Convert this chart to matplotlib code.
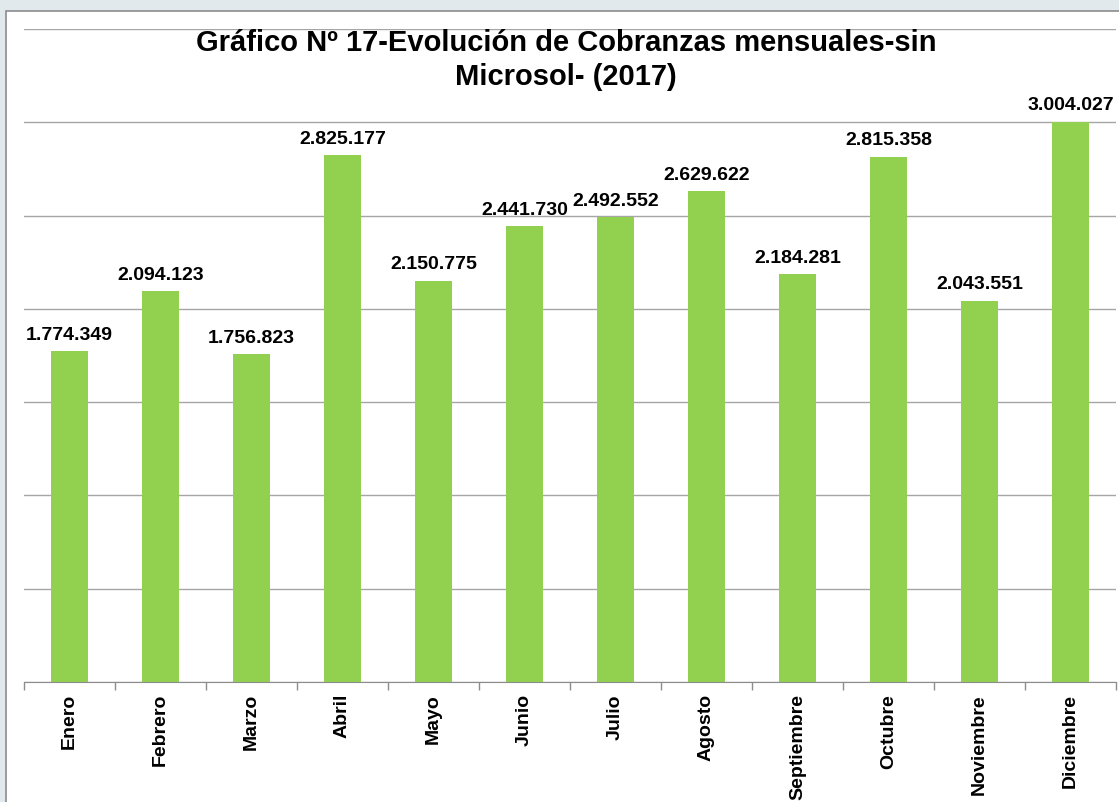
import matplotlib.pyplot as plt
from matplotlib.patches import Rectangle
import numpy as np

months = ["Enero", "Febrero", "Marzo", "Abril", "Mayo", "Junio", "Julio",
          "Agosto", "Septiembre", "Octubre", "Noviembre", "Diciembre"]
cobranzas = [1774349, 2094123, 1756823, 2825177, 2150775, 2441730, 2492552,
             2629622, 2184281, 2815358, 2043551, 3004027]

title = "Gráfico Nº 17-Evolución de Cobranzas mensuales-sin\nMicrosol- (2017)"

plt.rcParams['font.family'] = ['Liberation Sans', 'DejaVu Sans']

W, H = 1119, 803
fig = plt.figure(figsize=(W / 100, H / 100), dpi=100)
fig.patch.set_facecolor("#e2e9ed")
# white chart area with gray border, kept behind the axes
fig.patches.append(Rectangle((6 / W, -0.05), 1.1, 1 - 12 / H + 0.05,
                             transform=fig.transFigure, facecolor="white",
                             edgecolor="#8c8c8c", linewidth=1.2, zorder=-10))

ax = fig.add_axes([24 / W, 1 - 683 / H, 1092 / W, (683 - 30) / H])
ax.set_facecolor("none")

x = np.arange(len(months))
ax.bar(x, cobranzas, width=0.4, color="#92d050", zorder=2)

for xi, v in zip(x, cobranzas):
    lab = f"{v:,}".replace(",", ".")
    ax.annotate(lab, (xi, v), xytext=(0, 6), textcoords="offset points",
                ha="center", va="bottom", fontsize=14, fontweight="bold")

ax.set_xlim(-0.5, len(months) - 0.5)
ax.set_ylim(0, 3500000)
ax.set_yticks(np.arange(0, 3500001, 500000))
ax.yaxis.grid(True, color="#a6a6a6", linewidth=1)
ax.set_axisbelow(True)
ax.tick_params(axis="y", left=False, labelleft=False)

ax.set_xticks(x)
ax.set_xticklabels(months, rotation=90, fontsize=14, fontweight="bold")
ax.tick_params(axis="x", length=0, pad=8)
ax.set_xticks(np.arange(-0.5, len(months)), minor=True)
ax.tick_params(axis="x", which="minor", length=6, color="#8c8c8c", width=1)

for s in ["left", "right", "top"]:
    ax.spines[s].set_visible(False)
ax.spines["bottom"].set_color("#8c8c8c")

fig.text(566 / W, 1 - 60 / H, title, ha="center", va="center",
         fontsize=21, fontweight="bold", linespacing=1.25)

fig.savefig("out.png", dpi=100, facecolor=fig.get_facecolor())
